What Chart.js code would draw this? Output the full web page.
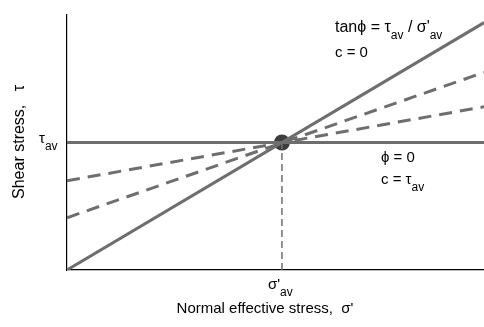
<!DOCTYPE html>
<html><head><meta charset="utf-8">
<script src="https://cdn.jsdelivr.net/npm/chart.js@4"></script>
<style>html,body{margin:0;padding:0;background:#fff}#w{width:484px;height:327px}</style>
</head><body><div id="w"><canvas id="c"></canvas></div>
<script>
// x positions (normal effective stress, sigma'av = 1)
const xEnds = [0, 1.94];
const sigmaAv = 1;
const tauAv = 1;
// lines through the average state point
const drainedLine = [0, 1.94];      // tan(phi) = tau_av / sigma'_av, c = 0
const undrainedLine = [1, 1];       // phi = 0, c = tau_av
const dashedUpper = [0.70, 1.28];
const dashedLower = [0.41, 1.55];
const verticalX = [1, 1];
const verticalY = [0, 1];

const gray = '#6e6e6e';
function pts(xs, ys){ return xs.map((x,i)=>({x:x,y:ys[i]})); }

const textPlugin = {
  id:'txt',
  afterDraw(chart){
    const ctx = chart.ctx;
    const F = '"Liberation Sans", Arial, sans-serif';
    ctx.save();
    ctx.fillStyle = '#000';
    ctx.textBaseline = 'alphabetic';
    function run(parts, x, y, big){
      let cx = x;
      for (const p of parts){
        const size = p.sub ? 12 : (big || 15);
        ctx.font = size + 'px ' + F;
        const dy = p.sub ? 7 : 0;
        ctx.fillText(p.t, cx, y + dy);
        cx += ctx.measureText(p.t).width;
      }
    }
    run([{t:'tanϕ = τ'},{t:'av',sub:true},{t:' / σ\''},{t:'av',sub:true}], 335, 32, 16);
    run([{t:'c = 0'}], 335, 57);
    run([{t:'ϕ = 0'}], 381, 162);
    run([{t:'c = τ'},{t:'av',sub:true}], 381, 184);
    run([{t:'τ'},{t:'av',sub:true}], 39, 143);
    run([{t:'σ\''},{t:'av',sub:true}], 268, 289);
    ctx.font = '15px ' + F;
    ctx.textAlign = 'center';
    ctx.fillText('Normal effective stress,  σ\'', 265, 313);
    ctx.translate(24, 142);
    ctx.rotate(-Math.PI/2);
    ctx.font = '16px ' + F;
    ctx.fillText('Shear stress,   τ', 0, 0);
    ctx.restore();
  }
};

new Chart(document.getElementById('c'), {
  type:'scatter',
  data:{datasets:[
    {data:pts(xEnds, drainedLine), showLine:true, borderColor:gray, borderWidth:3, pointRadius:0},
    {data:pts(xEnds, undrainedLine), showLine:true, borderColor:gray, borderWidth:3, pointRadius:0},
    {data:pts(xEnds, dashedUpper), showLine:true, borderColor:gray, borderWidth:3, borderDash:[13,8], pointRadius:0},
    {data:pts(xEnds, dashedLower), showLine:true, borderColor:gray, borderWidth:3, borderDash:[13,8], pointRadius:0},
    {data:pts(verticalX, verticalY), showLine:true, borderColor:gray, borderWidth:1.5, borderDash:[7,4], pointRadius:0},
    {data:[{x:sigmaAv,y:tauAv}], pointRadius:8, pointBackgroundColor:'#3c3c3c', pointBorderColor:'#3c3c3c', pointBorderWidth:0}
  ]},
  options:{
    responsive:true, maintainAspectRatio:false, animation:false,
    layout:{autoPadding:false, padding:{left:59, top:15, right:0, bottom:49}},
    plugins:{legend:{display:false}, tooltip:{enabled:false}},
    scales:{
      x:{type:'linear', min:0, max:1.94, ticks:{display:false}, grid:{display:false}, border:{display:true, color:'#000', width:1.2}},
      y:{type:'linear', min:0, max:2.0, ticks:{display:false}, grid:{display:false}, border:{display:true, color:'#000', width:1.2}}
    }
  },
  plugins:[textPlugin]
});
</script></body></html>
